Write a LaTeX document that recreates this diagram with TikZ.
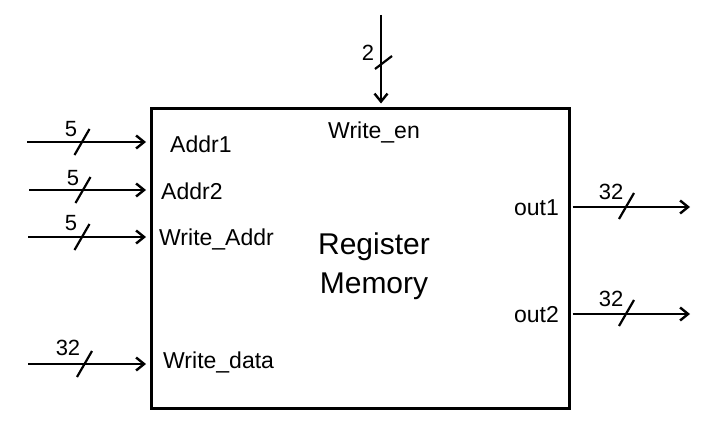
\documentclass[tikz,border=0pt]{standalone}
\usepackage{fontspec}
\setmainfont{Liberation Sans}
\usetikzlibrary{arrows.meta,calc}
\begin{document}
\begin{tikzpicture}[x=1pt,y=-1pt,
  bus/.style={line width=2.4pt,-{Straight Barb[length=8pt,width=13pt]}},
  tick/.style={line width=2.2pt},
  lbl/.style={inner sep=0pt,font=\fontsize{23}{27}\selectfont},
  num/.style={inner sep=0pt,font=\fontsize{22}{26}\selectfont},
  big/.style={inner sep=0pt,font=\fontsize{30}{39}\selectfont}]
\useasboundingbox (0,0) rectangle (712,444);
% main block
\node[draw,line width=3pt,minimum width=417.5pt,minimum height=300pt,inner sep=0pt] (box) at (360.25,258) {};
\node[big,anchor=base] (reg) at (374,254) {Register};
\node[big,anchor=base] (mem) at (374,293) {Memory};
% port labels
\node[lbl,anchor=base west] (ta1) at (170,152) {Addr1};
\node[lbl,anchor=base west] (ta2) at (161,199) {Addr2};
\node[lbl,anchor=base west] (twa) at (159,245) {Write\_Addr};
\node[lbl,anchor=base west] (twd) at (163,368) {Write\_data};
\node[lbl,anchor=base west] (twe) at (328,138) {Write\_en};
\node[lbl,anchor=base east] (to1) at (559,215) {out1};
\node[lbl,anchor=base east] (to2) at (559,322) {out2};
% free ends
\coordinate (a1s) at (27,142);
\coordinate (a2s) at (29,190);
\coordinate (was) at (28,237);
\coordinate (wds) at (28,364);
\coordinate (wes) at (381,15);
\coordinate (o1e) at (690,207);
\coordinate (o2e) at (690,314);
% connectors
\draw[bus,shorten >=4pt] (a1s) -- (a1s -| box.west);
\draw[bus,shorten >=4pt] (a2s) -- (a2s -| box.west);
\draw[bus,shorten >=4pt] (was) -- (was -| box.west);
\draw[bus,shorten >=4pt] (wds) -- (wds -| box.west);
\draw[bus,shorten >=3pt] (wes) -- (wes |- box.north);
\draw[bus,shorten <=2pt] (o1e -| box.east) -- (o1e);
\draw[bus,shorten <=2pt] (o2e -| box.east) -- (o2e);
% bus width slashes
\coordinate (s1) at (82,142);
\coordinate (s2) at (83,190);
\coordinate (s3) at (82,237);
\coordinate (s4) at (84.5,364);
\coordinate (s5) at (383.5,62.5);
\coordinate (s6) at (626.5,206);
\coordinate (s7) at (626.5,313);
\foreach \s in {s1,s2,s3,s4,s6,s7}
  \draw[tick] ($(\s)+(-7.5,13)$) -- ($(\s)+(7.5,-13)$);
\draw[tick] ($(s5)+(-8.5,6.5)$) -- ($(s5)+(8.5,-6.5)$);
% bus widths
\node[num] (n1) at (71,129.5) {5};
\node[num] (n2) at (73,178) {5};
\node[num] (n3) at (71,223) {5};
\node[num] (n4) at (68,348) {32};
\node[num] (n5) at (368,53) {2};
\node[num] (n6) at (611,192) {32};
\node[num] (n7) at (611,299) {32};
\end{tikzpicture}
\end{document}
